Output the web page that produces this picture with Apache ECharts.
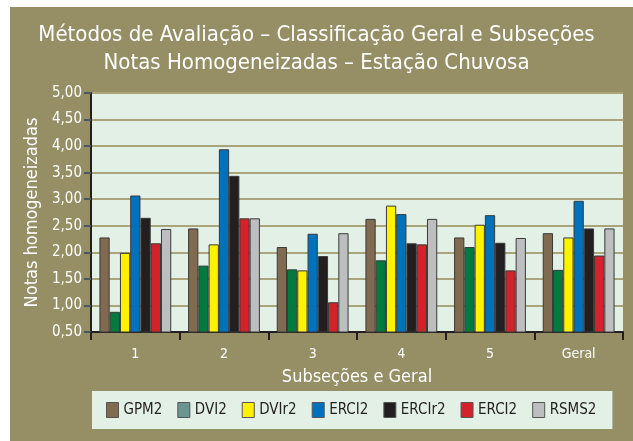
<!DOCTYPE html>
<html>
<head>
<meta charset="utf-8">
<script src="https://cdn.jsdelivr.net/npm/echarts@6/dist/echarts.min.js"></script>
<style>
  html, body { margin: 0; padding: 0; background: #ffffff; }
  #chart { width: 633px; height: 441px; }
</style>
</head>
<body>
<div id="chart"></div>
<script>
const categories = ['1', '2', '3', '4', '5', 'Geral']
const seriesNames = ['GPM2', 'DVI2', 'DVIr2', 'ERCI2', 'ERCIr2', 'ERCI2 ', 'RSMS2']
const gpm2 = [2.28, 2.45, 2.10, 2.63, 2.28, 2.36]
const dvi2 = [0.88, 1.75, 1.68, 1.85, 2.10, 1.67]
const dvir2 = [1.99, 2.15, 1.66, 2.88, 2.52, 2.28]
const erci2 = [3.07, 3.94, 2.35, 2.72, 2.70, 2.97]
const ercir2 = [2.65, 3.44, 1.93, 2.17, 2.18, 2.45]
const erci2b = [2.17, 2.64, 1.06, 2.15, 1.66, 1.94]
const rsms2 = [2.44, 2.64, 2.36, 2.63, 2.27, 2.45]
const seriesData = [gpm2, dvi2, dvir2, erci2, ercir2, erci2b, rsms2]

const barColors = ['#806a50', '#007a3d', '#fff200', '#0072bc', '#231f20', '#d2232a', '#bcbec0']
// the legend swatch for DVI2 is drawn greyish-teal in the original
const legendColors = ['#806a50', '#6a9591', '#fff200', '#0072bc', '#231f20', '#d2232a', '#bcbec0']

const font = "'DejaVu Sans Condensed', 'Liberation Sans Narrow', sans-serif"
const olive = '#968f66'

const chart = echarts.init(document.getElementById('chart'))

const option = {
  backgroundColor: '#ffffff',
  animation: false,
  graphic: [
    { type: 'rect', z: -10, shape: { x: 10, y: 7, width: 623, height: 434 }, style: { fill: olive } },
  ],
  title: {
    text: 'Métodos de Avaliação – Classificação Geral e Subseções\nNotas Homogeneizadas – Estação Chuvosa',
    left: 'center',
    top: 16,
    textStyle: { color: '#ffffff', fontFamily: font, fontSize: 22, fontWeight: 'normal', lineHeight: 28 },
  },
  legend: {
    data: seriesNames.map((n, i) => ({ name: n, itemStyle: { color: legendColors[i] } })),
    formatter: name => name.trim(),
    left: 92,
    top: 391,
    width: 496,
    padding: [11, 16, 11, 14],
    itemWidth: 12,
    itemHeight: 15,
    itemGap: 15,
    icon: 'rect',
    backgroundColor: '#e2f0e6',
    itemStyle: { borderColor: '#555555', borderWidth: 1 },
    textStyle: { color: '#231f20', fontFamily: font, fontSize: 15 },
  },
  grid: { left: 91, right: 10, top: 93, bottom: 109, show: true, backgroundColor: '#e2f0e6', borderWidth: 0 },
  xAxis: {
    type: 'category',
    data: categories,
    name: 'Subseções e Geral',
    nameLocation: 'middle',
    nameGap: 36,
    nameTextStyle: { color: '#ffffff', fontFamily: font, fontSize: 18 },
    axisLine: { lineStyle: { color: '#231f20', width: 2 } },
    axisTick: { show: true, length: 8, lineStyle: { color: '#231f20', width: 2 } },
    axisLabel: { color: '#ffffff', fontFamily: font, fontSize: 14, margin: 15 },
  },
  yAxis: {
    type: 'value',
    min: 0.5,
    max: 5,
    interval: 0.5,
    name: 'Notas homogeneizadas',
    nameLocation: 'middle',
    nameGap: 47,
    nameRotate: 90,
    nameTextStyle: { color: '#ffffff', fontFamily: font, fontSize: 18 },
    axisLine: { show: true, lineStyle: { color: '#231f20', width: 2 } },
    axisTick: { show: true, length: 7, lineStyle: { color: '#4a5863', width: 2 } },
    axisLabel: {
      color: '#ffffff',
      fontFamily: font,
      fontSize: 15,
      margin: 9,
      formatter: v => v.toFixed(2).replace('.', ','),
    },
    splitLine: { lineStyle: { color: '#a9a47c', width: 2 } },
  },
  series: seriesNames.map((n, i) => ({
    name: n,
    type: 'bar',
    data: seriesData[i],
    barGap: '0%',
    barCategoryGap: '19%',
    itemStyle: { color: barColors[i], borderColor: '#3a3a3a', borderWidth: 1 },
  })),
}

chart.setOption(option)
</script>
</body>
</html>
